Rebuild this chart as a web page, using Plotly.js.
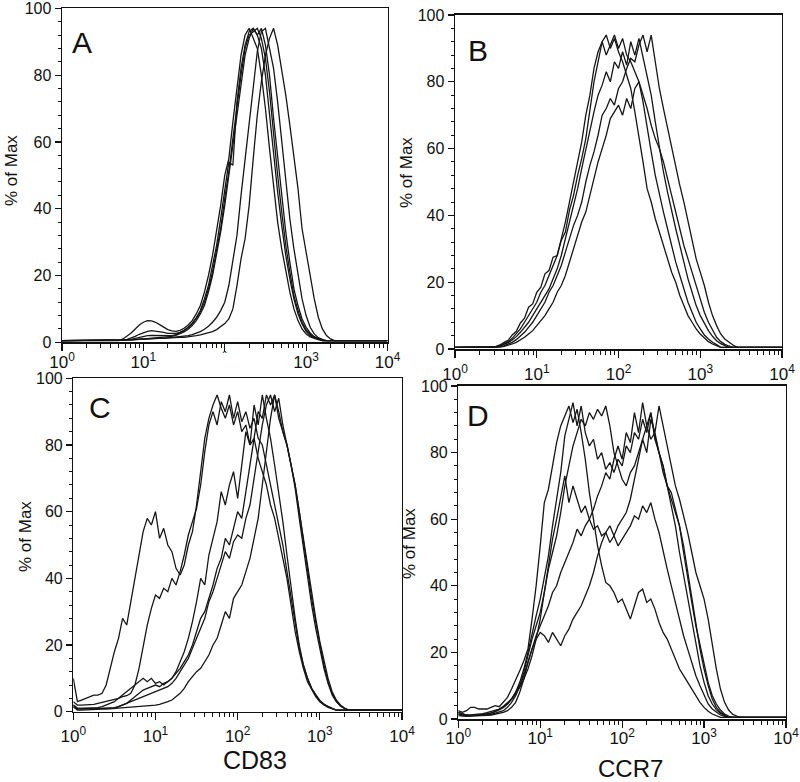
<!DOCTYPE html>
<html><head><meta charset="utf-8">
<script src="https://cdn.plot.ly/plotly-3.0.1.min.js"></script>
<style>html,body{margin:0;padding:0;background:#fff;}#chart{width:800px;height:782px;}</style>
</head><body><div id="chart"></div>
<script>
// fluorescence channel positions (log10 of intensity)
const logBins = [0,0.05,0.1,0.15,0.2,0.25,0.3,0.35,0.4,0.45,0.5,0.55,0.6,0.65,0.7,0.75,0.8,0.85,0.9,0.95,
1,1.05,1.1,1.15,1.2,1.25,1.3,1.35,1.4,1.45,1.5,1.55,1.6,1.65,1.7,1.75,1.8,1.85,1.9,1.95,
2,2.05,2.1,2.15,2.2,2.25,2.3,2.35,2.4,2.45,2.5,2.55,2.6,2.65,2.7,2.75,2.8,2.85,2.9,2.95,
3,3.05,3.1,3.15,3.2,3.25,3.3,3.35,3.4,3.45,3.5,3.55,3.6,3.65,3.7,3.75,3.8,3.85,3.9,3.95,4];

// Panel A (CD83) – % of Max
const A1 = [.5,.5,.5,.5,.5,.5,.5,.5,.5,.5, .5,.5,.5,.5,.5,1.0,1.8,2.8,4.0,5.2, 6.0,6.5,6.4,6.0,5.3,4.5,3.8,3.4,3.3,3.6,
 4.2,5.2,6.5,8.5,11,15,20,26,33,41, 50,55,66,76,86,92,94,91,88,80, 70,58,46,36,28,21,15,10,6.5,4,
 2.5,1.6,1.1,.8,.5,.5,.5,.5,.5,.5, .5,.5,.5,.5,.5,.5,.5,.5,.5,.5, .5];
const A2 = [.5,.5,.5,.5,.5,.5,.5,.5,.5,.5, .5,.5,.5,.5,.5,.6,.9,1.3,1.8,2.4, 2.9,3.3,3.5,3.4,3.2,3.0,2.7,2.6,2.7,3.0,
 3.6,4.5,5.7,7.3,9.5,13,17,23,29,37, 45,54,53,72,82,89,93,94,92,88, 80,68,55,45,35,26,19,13,8.5,5.5,
 3.3,2.0,1.3,.9,.5,.5,.5,.5,.5,.5, .5,.5,.5,.5,.5,.5,.5,.5,.5,.5, .5];
const A3 = [.5,.5,.5,.5,.5,.5,.5,.5,.5,.5, .5,.5,.5,.5,.5,.5,.7,.9,1.2,1.5, 1.8,2.0,2.1,2.1,2.0,1.9,1.9,2.0,2.3,2.8,
 3.5,4.4,5.6,7.2,9.2,12,16,21,27,34, 43,51,61,71,80,88,92,93,94,91, 85,75,62,50,39,29,21,14,9.5,6,
 3.8,2.3,1.5,1.0,.5,.5,.5,.5,.5,.5, .5,.5,.5,.5,.5,.5,.5,.5,.5,.5, .5];
const A4 = [.5,.5,.5,.5,.5,.5,.5,.5,.5,.5, .5,.5,.5,.5,.5,.5,.6,.7,.8,.9, 1.0,1.1,1.2,1.3,1.4,1.5,1.6,1.8,2.1,2.5,
 3.1,3.9,5.0,6.5,8.5,11,15,20,26,33, 41,50,59,69,78,86,91,94,92,94, 89,80,67,55,43,33,24,16,11,7,
 4.5,2.8,1.7,1.1,.6,.5,.5,.5,.5,.5, .5,.5,.5,.5,.5,.5,.5,.5,.5,.5, .5];
const A5 = [.5,.5,.5,.5,.5,.5,.5,.5,.5,.5, .5,.5,.5,.5,.5,.5,.6,.7,.8,.9, 1.0,1.0,1.1,1.1,1.2,1.2,1.3,1.4,1.5,1.6,
 1.8,2.0,2.3,2.7,3.2,3.9,4.8,6.0,7.5,9.5, 12,17,24,32,44,55,67,78,87,93, 94,88,82,72,60,48,37,28,20,13,
 8,4.5,2.5,1.4,.9,.5,.5,.5,.5,.5, .5,.5,.5,.5,.5,.5,.5,.5,.5,.5, .5];
const A6 = [.5,.5,.5,.5,.5,.5,.5,.5,.5,.5, .5,.5,.5,.5,.5,.6,.7,.8,.9,1.0, 1.0,1.1,1.1,1.2,1.2,1.3,1.3,1.4,1.4,1.5,
 1.5,1.6,1.8,2.0,2.2,2.5,2.8,3.2,3.8,4.6, 5.6,7.0,10,17,25,31,41,55,68,78, 86,91,94,89,82,74,65,56,46,34,
 27,21,13,7.5,4,2,1,.5,.5,.5, .5,.5,.5,.5,.5,.5,.5,.5,.5,.5, .5];

// Panel B (CCR7)
const B1 = [.5,.5,.5,.5,.5,.5,.5,.5,.5,.5, .8,1.2,2.0,2.6,4.2,5.3,7.8,9.2,12.5,13.5, 17,18.5,22.5,23.5,27.5,28,32.5,35,41.5,46,
 52,57,63,72,80,86,92,94,90,93, 89,86,82,78,71,64,56,48,44,39, 35,31,27,23,20,16,13,10,8,6,
 4.5,3.2,2.2,1.5,1.0,.5,.5,.5,.5,.5, .5,.5,.5,.5,.5,.5,.5,.5,.5,.5, .5];
const B2 = [.5,.5,.5,.5,.5,.5,.5,.5,.5,.5, .6,1.0,1.5,2.2,3.2,4.5,6,8,10,12, 14,17,19,22,25,28,33,38,44,50,
 55,62,70,76,84,89,92,88,91,94, 90,93,88,86,83,80,74,66,59,52, 46,41,36,31,26,22,18,14,11,8,
 6,4.2,3,2,1.3,.5,.5,.5,.5,.5, .5,.5,.5,.5,.5,.5,.5,.5,.5,.5, .5];
const B3 = [.5,.5,.5,.5,.5,.5,.5,.5,.5,.5, .5,.7,1.0,1.4,2.0,2.8,3.8,5,6.5,8, 10,12,14,17,19,22,25,29,33,37,
 40,44,50,55,59,64,70,72,75,73, 78,80,84,87,86,91,94,89,94,86, 78,72,66,61,55,49,44,38,32,27,
 23,19,14,10,7,4.5,3,2,1.2,.5, .5,.5,.5,.5,.5,.5,.5,.5,.5,.5, .5];
const B4 = [.5,.5,.5,.5,.5,.5,.5,.5,.5,.5, .5,.6,.8,1.1,1.5,2.0,2.7,3.5,4.5,5.5, 7,8.5,10,12,14,17,19,22,26,30,
 34,38,41,46,51,56,60,64,69,71, 73,70,75,72,78,80,76,72,67,63, 60,56,51,46,41,36,31,27,23,19,
 15,11,8,5.5,3.5,2.2,1.4,.9,.5,.5, .5,.5,.5,.5,.5,.5,.5,.5,.5,.5, .5];
const B5 = [.5,.5,.5,.5,.5,.5,.5,.5,.5,.5, .6,.9,1.3,1.9,2.7,3.7,5,6.5,8,10, 12,14,16,18,21,24,28,33,38,43,
 48,54,60,66,71,76,79,83,80,86, 84,89,85,92,88,93,87,82,76,68, 60,53,47,41,36,31,26,21,17,13,
 10,7.5,5.5,3.8,2.5,1.6,1.0,.5,.5,.5, .5,.5,.5,.5,.5,.5,.5,.5,.5,.5, .5];

// Panel C (CD83)
const C1 = [10,3,3.5,4,4.5,5,5,5.5,8,13, 18,22,28,26,33,40,47,54,58,56, 60,52,55,50,48,43,41,44,50,54,
 62,72,82,88,92,95,91,88,92,86, 90,84,86,80,82,76,72,68,62,58, 52,46,40,32,24,18,13,9,6.5,4.5,
 3,2,1.3,.9,.5,.5,.5,.5,.5,.5, .5,.5,.5,.5,.5,.5,.5,.5,.5,.5, .5];
const C2 = [3,2,2,2,2,2.2,2.5,2.8,3,3.3, 3.5,4,4.5,4.8,5.5,8,13,20,26,31, 35,34,37,36,40,38,42,47,53,57,
 61,68,78,86,90,86,93,90,95,88, 93,87,90,85,88,82,80,74,68,63, 57,50,42,34,26,19,14,10,7,5,
 3.3,2.2,1.5,1.0,.5,.5,.5,.5,.5,.5, .5,.5,.5,.5,.5,.5,.5,.5,.5,.5, .5];
const C3 = [2,1,1,1,1,1,1.2,1.5,2,2.5, 3,4,5,6,7,8,9,10,9,10, 8.5,9,8,9,10,12,15,18,22,27,
 33,40,38,47,52,57,66,62,68,72, 64,74,84,80,92,86,95,88,82,74, 66,57,47,37,28,20,14,10,7,5,
 3.4,2.3,1.5,1.0,.5,.5,.5,.5,.5,.5, .5,.5,.5,.5,.5,.5,.5,.5,.5,.5, .5];
const C4 = [1.5,.8,.8,.8,.9,.9,1.0,1.0,1.1,1.1, 1.2,1.5,2,2.5,3,3.5,4,4.5,5,5.5, 6,6.5,7,7.5,8.5,10,12,14,16,19,
 22,25,28,33,36,40,44,48,46,51, 53,52,58,62,70,78,86,92,95,90, 94,86,80,75,68,60,51,42,34,27,
 20,14,9,5.5,3.2,1.8,1.0,.5,.5,.5, .5,.5,.5,.5,.5,.5,.5,.5,.5,.5, .5];
const C5 = [1.5,.5,.5,.6,.6,.7,.7,.8,.8,.9, .9,1.0,1.0,1.1,1.2,1.3,1.4,1.5,1.6,1.8, 2.0,2.2,2.5,3,3.5,4.5,5.5,7,9,10.5,
 12,13,15,17,20,22,26,30,28,34, 36,38,42,46,52,58,68,78,88,95, 90,84,80,74,68,60,52,43,35,28,
 21,15,10,6,3.5,2,1.1,.5,.5,.5, .5,.5,.5,.5,.5,.5,.5,.5,.5,.5, .5];
const C6 = [2,1,1,1,1,1,1,1,1,1, 1,1.5,2,2.5,3.5,4.5,5.5,6.5,7,7.5, 8,7.5,8.5,9,10,11.5,13,15,17,20,
 24,28,30,34,38,43,46,52,50,55, 60,58,66,74,82,90,88,95,92,95, 88,84,80,74,67,58,49,40,32,25,
 19,13,8.5,5,3,1.7,1.0,.5,.5,.5, .5,.5,.5,.5,.5,.5,.5,.5,.5,.5, .5];

// Panel D (CCR7)
const D1 = [2.5,2,2.5,3.5,3.5,3,3,3,3.5,4, 3.7,5,6.5,9,11.5,14.5,17.5,21,30,40, 52,65,69,76,83,88,91,94,89,93,
 86,78,68,60,52,46,41,40,38,35, 36,33,30,34,38,39,35,36,33,29, 26,24,21,18,15,13,11,9,7,5,
 3.5,2.3,1.5,1.0,.5,.5,.5,.5,.5,.5, .5,.5,.5,.5,.5,.5,.5,.5,.5,.5, .5];
const D2 = [1.5,1.2,1.0,1.0,1.1,1.2,1.3,1.5,1.8,2.2, 2.8,3.5,4.5,6,8,11,15,20,26,31, 36,42,49,58,66,74,85,90,95,88,
 94,86,82,84,78,80,75,77,74,78, 76,82,80,86,84,90,86,92,84,80, 74,70,64,58,50,43,36,29,22,16,
 11,7,4.5,2.8,1.7,1.0,.5,.5,.5,.5, .5,.5,.5,.5,.5,.5,.5,.5,.5,.5, .5];
const D3 = [2,1.5,1.2,1.0,1.0,1.0,1.1,1.2,1.4,1.7, 2,2.5,3.5,5,7,10,14,19,24,28, 32,38,45,50,55,62,70,76,82,86,
 90,88,92,90,93,91,94,88,80,76, 72,70,74,76,80,84,88,84,86,80, 76,70,66,62,58,52,44,36,28,21,
 15,10,6,3.5,2,1.2,.5,.5,.5,.5, .5,.5,.5,.5,.5,.5,.5,.5,.5,.5, .5];
const D4 = [2,1.5,1.2,1.2,1.3,1.4,1.6,1.9,2.3,2.8, 3,3.8,4.8,6,7.5,9.5,12,15,19,24, 30,38,46,54,60,66,73,65,70,66,
 62,64,60,57,58,55,56,53,55,52, 54,56,58,61,60,64,62,65,60,56, 50,45,40,35,30,25,21,17,13,10,
 7,4.5,3,2,1.2,.8,.5,.5,.5,.5, .5,.5,.5,.5,.5,.5,.5,.5,.5,.5, .5];
const D5 = [1,.8,.8,.9,.9,1.0,1.0,1.1,1.2,1.4, 1.6,2,2.5,3.5,5,8,12,17,21,24, 26,25,23,26,24,22,25,27,30,32,
 34,37,40,44,49,53,56,58,55,58, 60,62,66,72,78,84,80,90,86,94, 88,82,76,70,66,61,56,50,44,40,
 36,30,22,15,9,5,2.7,1.4,.9,.5, .5,.5,.5,.5,.5,.5,.5,.5,.5,.5, .5];
const D6 = [1.5,1.0,1.0,1.0,1.1,1.2,1.3,1.5,1.8,2.2, 2.8,3.5,4.5,6,8,10,13,17,21,25, 28,31,34,38,40,44,47,50,53,57,
 55,58,60,63,67,70,74,72,78,82, 78,86,83,92,86,95,88,92,85,80, 76,70,68,63,58,50,42,35,28,22,
 16,11,7,4.5,2.7,1.5,.9,.5,.5,.5, .5,.5,.5,.5,.5,.5,.5,.5,.5,.5, .5];

const xTickVals = [1, 10, 100, 1000, 10000];
const xTickTextA = ['10<sup>0</sup>', '10<sup>1</sup>', '<sup>ˆ</sup>', '10<sup>3</sup>', '10<sup>4</sup>'];
const xTickText = ['10<sup>0</sup>', '10<sup>1</sup>', '10<sup>2</sup>', '10<sup>3</sup>', '10<sup>4</sup>'];
const yTickVals = [0, 20, 40, 60, 80, 100];
const panelLetters = ['A', 'B', 'C', 'D'];
const xTitles = ['CD83', 'CCR7'];
const yTitle = '% of Max';

const panels = [[A1,A2,A3,A4,A5,A6],[B1,B2,B3,B4,B5],[C1,C2,C3,C4,C5,C6],[D1,D2,D3,D4,D5,D6]];
const xs = logBins.map(v => Math.pow(10, v));

const traces = [];
panels.forEach((curves, p) => {
  const sfx = p === 0 ? '' : String(p + 1);
  curves.forEach(ys => {
    traces.push({x: xs, y: ys, type: 'scatter', mode: 'lines', xaxis: 'x' + sfx, yaxis: 'y' + sfx,
      line: {color: '#161616', width: 1.3}, hoverinfo: 'skip'});
  });
});

const minorX = [];
for (let d = 0; d < 4; d++) for (let k = 2; k <= 9; k++) minorX.push(k * Math.pow(10, d));

function xAxis(dom, anchor, texts, standoff) {
  return {domain: dom, anchor: anchor, type: 'log', range: [0, 4], tickvals: xTickVals, ticktext: texts,
    ticks: 'outside', ticklen: 7, tickwidth: 1.2, tickcolor: '#111',
    minor: {tickvals: minorX, ticks: 'outside', ticklen: 4, tickwidth: 1, tickcolor: '#111', showgrid: false},
    showline: true, mirror: true, linecolor: '#111', linewidth: 1.7, showgrid: false, zeroline: false,
    ticklabelstandoff: standoff, ticklabeloverflow: 'allow', tickfont: {size: 17, color: '#111'}, fixedrange: true};
}
function yAxis(dom, anchor) {
  return {domain: dom, anchor: anchor, range: [0, 100], tickvals: yTickVals,
    ticks: 'outside', ticklen: 6, tickwidth: 1.2, tickcolor: '#111',
    minor: {dtick: 4, tick0: 0, ticks: 'outside', ticklen: 3, tickwidth: 1, tickcolor: '#111', showgrid: false},
    showline: true, mirror: true, linecolor: '#111', linewidth: 1.4, showgrid: false, zeroline: false,
    ticklabeloverflow: 'allow', tickfont: {size: 16, color: '#111'}, fixedrange: true};
}

const W = 800, H = 782;
const fx = v => v / W, fy = v => 1 - v / H;
function note(text, x, y, size, angle) {
  return {text: text, x: fx(x), y: fy(y), xref: 'paper', yref: 'paper', xanchor: 'center', yanchor: 'middle',
    textangle: angle || 0, showarrow: false, font: {size: size, color: '#111'}};
}

const layout = {
  width: W, height: H, margin: {l: 0, r: 0, t: 0, b: 0},
  paper_bgcolor: '#fff', plot_bgcolor: '#fff', showlegend: false,
  font: {family: 'Liberation Sans, Arial, sans-serif', color: '#111'},
  xaxis:  xAxis([fx(62), fx(387.5)], 'y', xTickTextA, -3),
  yaxis:  yAxis([fy(342.3), fy(8.3)], 'x'),
  xaxis2: xAxis([fx(455), fx(782)], 'y2', xTickText, 2),
  yaxis2: yAxis([fy(349), fy(15)], 'x2'),
  xaxis3: xAxis([fx(73.3), fx(402)], 'y3', xTickText, 1),
  yaxis3: yAxis([fy(711.7), fy(378.3)], 'x3'),
  xaxis4: xAxis([fx(458.3), fx(786)], 'y4', xTickText, -4),
  yaxis4: yAxis([fy(719), fy(386)], 'x4'),
  annotations: [
    note(panelLetters[0], 82, 42, 30),
    note(panelLetters[1], 478, 51, 30),
    note(panelLetters[2], 100, 407.5, 30),
    note(panelLetters[3], 478, 415.5, 30),
    note(yTitle, 11, 171, 17, -90),
    note(yTitle, 407, 173, 17, -90),
    note(yTitle, 25, 537, 17, -90),
    note(yTitle, 409, 544, 17, -90),
    note(xTitles[0], 254.5, 760, 25),
    note(xTitles[1], 630, 768, 24)
  ]
};

Plotly.newPlot('chart', traces, layout, {staticPlot: true, displayModeBar: false});
</script>
</body></html>
